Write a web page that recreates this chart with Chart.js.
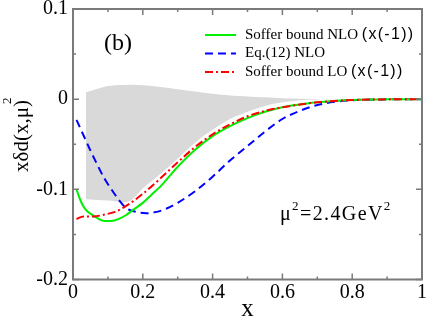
<!DOCTYPE html>
<html><head><meta charset="utf-8">
<script src="https://cdn.jsdelivr.net/npm/chart.js@4"></script>
<style>html,body{margin:0;padding:0;background:#fff}#wrap{width:427px;height:316px}</style>
</head><body><div id="wrap"><canvas id="c" width="427" height="316"></canvas></div>
<script>
// ---- data ----
const greenX = [0.01,0.02,0.03,0.04,0.05,0.07,0.09,0.11,0.13,0.15,0.175,0.2,0.225,0.25,0.275,0.3,0.35,0.4,0.45,0.5,0.55,0.6,0.65,0.7,0.75,0.8,0.9,1.0];
const greenY = [-0.100,-0.111,-0.119,-0.124,-0.127,-0.132,-0.135,-0.135,-0.133,-0.129,-0.122,-0.115,-0.106,-0.097,-0.086,-0.075,-0.056,-0.041,-0.030,-0.021,-0.014,-0.009,-0.006,-0.0035,-0.002,-0.001,-0.0002,0];
const blueX = [0.01,0.03,0.05,0.07,0.09,0.11,0.13,0.15,0.18,0.21,0.24,0.27,0.3,0.35,0.4,0.45,0.5,0.55,0.6,0.65,0.7,0.75,0.8,0.9,1.0];
const blueY = [-0.023,-0.040,-0.057,-0.073,-0.088,-0.100,-0.111,-0.120,-0.125,-0.1265,-0.125,-0.121,-0.115,-0.102,-0.086,-0.068,-0.052,-0.036,-0.022,-0.013,-0.0065,-0.003,-0.0012,-0.0002,0];
const redX = [0.01,0.03,0.06,0.09,0.12,0.15,0.2,0.25,0.3,0.35,0.4,0.45,0.5,0.55,0.6,0.65,0.7,0.8,0.9,1.0];
const redY = [-0.133,-0.130,-0.130,-0.128,-0.125,-0.119,-0.105,-0.088,-0.070,-0.053,-0.039,-0.028,-0.019,-0.013,-0.009,-0.006,-0.0035,-0.001,-0.0002,0];
const bandX = [0.037,0.1,0.16,0.2,0.25,0.3,0.35,0.4,0.45,0.5,0.55,0.6,0.65,0.7,0.75,0.8];
const bandUpper = [0.0075,0.0145,0.016,0.0155,0.0135,0.011,0.0085,0.006,0.0042,0.003,0.002,0.001,0.0005,0.0002,0.0001,0];
const bandLower = [-0.111,-0.1125,-0.1135,-0.099,-0.083,-0.066,-0.048,-0.034,-0.022,-0.014,-0.0075,-0.0035,-0.0012,-0.0003,-0.0001,0];
const seriesLabels = ['Soffer bound NLO ', 'Eq.(12) NLO', 'Soffer bound LO '];
const xMajorTicks = [0,0.2,0.4,0.6,0.8,1];
const xMinorTicks = [0.1,0.3,0.5,0.7,0.9];
const yMajorTicks = [-0.2,-0.1,0,0.1];
const yMinorTicks = [-0.15,-0.05,0.05];
const xTickLabels = ['0','0.2','0.4','0.6','0.8','1'];
const yTickLabels = ['-0.2','-0.1','0','0.1'];

const pts = (xs, ys) => xs.map((x, i) => ({x, y: ys[i]}));
const SERIF = '"Liberation Serif","Times New Roman",serif';
const SANS = '"Liberation Sans",Arial,sans-serif';

const frameAndTicks = {
  id: 'frameAndTicks',
  afterDatasetsDraw(chart) {
    const {ctx, chartArea: a, scales: {x, y}} = chart;
    ctx.save();
    ctx.strokeStyle = '#7a7a7a';
    ctx.lineWidth = 1.5;
    ctx.beginPath();
    const tick = (px, len, vertical) => {
      if (vertical) {
        ctx.moveTo(px, a.bottom); ctx.lineTo(px, a.bottom - len);
        ctx.moveTo(px, a.top); ctx.lineTo(px, a.top + len);
      } else {
        ctx.moveTo(a.left, px); ctx.lineTo(a.left + len, px);
        ctx.moveTo(a.right, px); ctx.lineTo(a.right - len, px);
      }
    };
    xMajorTicks.forEach(v => tick(x.getPixelForValue(v), 6, true));
    xMinorTicks.forEach(v => tick(x.getPixelForValue(v), 3, true));
    yMajorTicks.forEach(v => tick(y.getPixelForValue(v), 6, false));
    yMinorTicks.forEach(v => tick(y.getPixelForValue(v), 3, false));
    ctx.stroke();
    ctx.lineWidth = 2;
    ctx.strokeRect(a.left, a.top, a.right - a.left, a.bottom - a.top);
    ctx.restore();
  }
};

const annotations = {
  id: 'annotations',
  afterDraw(chart) {
    const {ctx, scales: {x, y}} = chart;
    ctx.save();
    ctx.fillStyle = '#000';
    // (b)
    ctx.font = '24px ' + SERIF;
    ctx.textAlign = 'center'; ctx.textBaseline = 'middle';
    ctx.fillText('(b)', x.getPixelForValue(0.129), y.getPixelForValue(0.062));
    // mu^2 = 2.4 GeV^2
    ctx.textAlign = 'left'; ctx.textBaseline = 'alphabetic';
    let px = x.getPixelForValue(0.593), py = y.getPixelForValue(-0.1345);
    const parts = [['μ', false], ['2', true], ['=2.4GeV', false], ['2', true]];
    ctx.letterSpacing = '1.4px';
    parts.forEach(([t, sup]) => {
      ctx.font = (sup ? '13px ' : '20px ') + SERIF;
      ctx.fillText(t, px, sup ? py - 10 : py);
      px += ctx.measureText(t).width;
    });
    ctx.letterSpacing = '0px';
    // y-axis title, rotated
    ctx.save();
    ctx.translate(28, 172);
    ctx.rotate(-Math.PI / 2);
    ctx.font = '21px ' + SERIF;
    const main = 'xδd(x,μ';
    ctx.fillText(main, 0, 0);
    let w = ctx.measureText(main).width;
    ctx.fillText(')', w, 0);
    const pw = ctx.measureText(')').width;
    ctx.font = '13px ' + SERIF;
    ctx.fillText('2', w + pw - 4, -17);
    ctx.restore();
    // legend
    const rows = [35, 53.5, 72];
    chart.data.datasets.slice(0, 3).forEach((ds, i) => {
      const ly = rows[i];
      ctx.save();
      ctx.strokeStyle = ds.borderColor; ctx.lineWidth = ds.borderWidth;
      ctx.setLineDash(ds.borderDash || []);
      ctx.beginPath(); ctx.moveTo(205, ly); ctx.lineTo(236, ly); ctx.stroke();
      ctx.restore();
      ctx.textBaseline = 'middle';
      ctx.font = '15px ' + SERIF;
      ctx.letterSpacing = '0px';
      ctx.fillText(ds.label, 245, ly);
      if (i !== 1) {
        const lw = ctx.measureText(ds.label).width;
        ctx.font = '16px ' + SANS;
        ctx.letterSpacing = '1.3px';
        ctx.fillText('(x(-1))', 245 + lw, ly);
      }
      ctx.letterSpacing = '0px';
    });
    ctx.restore();
  }
};

new Chart(document.getElementById('c'), {
  type: 'line',
  data: {
    datasets: [
      {label: seriesLabels[0], data: pts(greenX, greenY), borderColor: '#00f000', borderWidth: 2, pointRadius: 0, tension: 0.4, cubicInterpolationMode: 'monotone', fill: false, order: 1},
      {label: seriesLabels[1], data: pts(blueX, blueY), borderColor: '#0000ff', borderWidth: 2, borderDash: [8, 5], pointRadius: 0, cubicInterpolationMode: 'monotone', fill: false, order: 2},
      {label: seriesLabels[2], data: pts(redX, redY), borderColor: '#ff0000', borderWidth: 2, borderDash: [8, 3, 2, 3], pointRadius: 0, cubicInterpolationMode: 'monotone', fill: false, order: 0},
      {label: 'band upper', data: pts(bandX, bandUpper), borderWidth: 0, borderColor: 'rgba(0,0,0,0)', backgroundColor: '#d9d9d9', pointRadius: 0, tension: 0.3, fill: '+1', order: 10},
      {label: 'band lower', data: pts(bandX, bandLower), borderWidth: 0, borderColor: 'rgba(0,0,0,0)', backgroundColor: '#d9d9d9', pointRadius: 0, tension: 0.3, fill: false, order: 11}
    ]
  },
  options: {
    responsive: false, animation: false, devicePixelRatio: 1,
    layout: {padding: {left: 0, right: 5, top: 9, bottom: 0}},
    plugins: {legend: {display: false}, tooltip: {enabled: false}},
    scales: {
      x: {
        type: 'linear', min: 0, max: 1,
        afterBuildTicks: s => { s.ticks = xMajorTicks.map(v => ({value: v})); },
        afterFit: s => { s.height = 36.5; s.paddingLeft = 0; s.paddingRight = 0; },
        grid: {display: false, drawTicks: false},
        border: {display: false},
        ticks: {color: '#000', padding: 1, maxRotation: 0, autoSkip: false,
          font: {family: SERIF, size: 20},
          callback: (v, i) => xTickLabels[i]},
        title: {display: true, text: 'x', color: '#000', font: {family: SERIF, size: 25}, padding: {top: 0, bottom: -8}}
      },
      y: {
        type: 'linear', min: -0.2, max: 0.1,
        afterBuildTicks: s => { s.ticks = yMajorTicks.map(v => ({value: v})); },
        afterFit: s => { s.width = 73; s.paddingTop = 0; s.paddingBottom = 0; },
        grid: {display: false, drawTicks: false},
        border: {display: false},
        ticks: {color: '#000', padding: 5, autoSkip: false,
          font: {family: SERIF, size: 20},
          callback: (v, i) => yTickLabels[i]}
      }
    }
  },
  plugins: [frameAndTicks, annotations]
});
</script></body></html>
